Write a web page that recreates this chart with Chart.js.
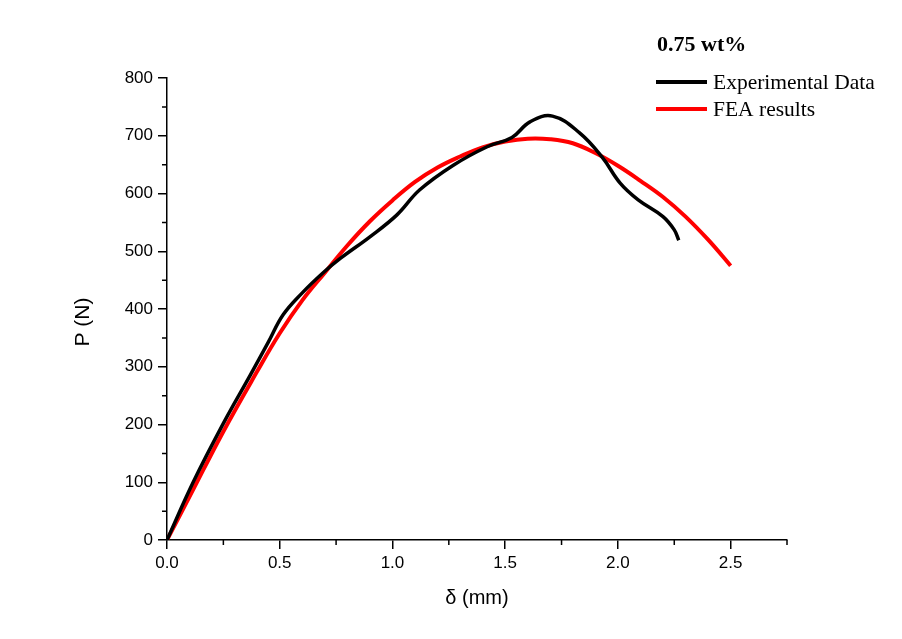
<!DOCTYPE html>
<html>
<head>
<meta charset="utf-8">
<script src="https://cdn.jsdelivr.net/npm/chart.js@4/dist/chart.umd.min.js"></script>
<style>
  html, body { margin: 0; padding: 0; background: #fff; }
  #wrap { width: 902px; height: 639px; }
</style>
</head>
<body>
<div id="wrap"><canvas id="chart" width="902" height="639"></canvas></div>
<script>
// load-displacement, 0.75 wt% sample
const expDelta = [0, 0.116, 0.25, 0.37, 0.45, 0.515, 0.6, 0.69, 0.77, 0.9, 1.02, 1.12, 1.27, 1.42, 1.53, 1.61, 1.71, 1.83, 1.93, 2.01, 2.09, 2.2, 2.25, 2.27]
const expLoad  = [0, 100, 202, 286, 343, 390, 428, 462, 488, 525, 563, 606, 649, 681, 697, 724, 734, 705, 663, 618, 589, 560, 537, 519]

const feaDelta = [0, 0.1, 0.25, 0.4, 0.5, 0.6, 0.7, 0.8, 0.9, 1.0, 1.1, 1.2, 1.3, 1.4, 1.5, 1.6, 1.7, 1.8, 1.9, 2.0, 2.1, 2.2, 2.3, 2.4, 2.5]
const feaLoad  = [0, 75, 188, 292, 358, 415, 463, 510, 552, 588, 620, 645, 664, 680, 690, 695, 694, 687, 670, 648, 622, 594, 560, 520, 475]

const xTicks = [0, 0.5, 1.0, 1.5, 2.0, 2.5]
const xMinor = [0.25, 0.75, 1.25, 1.75, 2.25, 2.75]
const yTicks = [0, 100, 200, 300, 400, 500, 600, 700, 800]
const yMinor = [50, 150, 250, 350, 450, 550, 650, 750]

const toPoints = (xs, ys) => xs.map((x, i) => ({ x: x, y: ys[i] }))

const sansFamily = 'Arial, "Liberation Sans", sans-serif'
const serifFamily = '"Liberation Serif", "Times New Roman", serif'

// short minor ticks along both axes, plus the rotated y title
const axisExtras = {
  id: 'axisExtras',
  afterDraw(chart) {
    const { ctx, chartArea, scales } = chart
    ctx.save()
    ctx.strokeStyle = '#000'
    ctx.lineWidth = 1.5
    ctx.beginPath()
    xMinor.forEach(v => {
      const px = scales.x.getPixelForValue(v)
      ctx.moveTo(px, chartArea.bottom)
      ctx.lineTo(px, chartArea.bottom + 5)
    })
    yMinor.forEach(v => {
      const py = scales.y.getPixelForValue(v)
      ctx.moveTo(chartArea.left, py)
      ctx.lineTo(chartArea.left - 5, py)
    })
    ctx.stroke()

    ctx.translate(83, 322)
    ctx.rotate(-Math.PI / 2)
    ctx.fillStyle = '#000'
    ctx.font = '21px ' + sansFamily
    ctx.textAlign = 'center'
    ctx.textBaseline = 'middle'
    ctx.fillText('P (N)', 0, 0)
    ctx.restore()
  }
}

// heading + legend in the upper right
const sideLegend = {
  id: 'sideLegend',
  afterDraw(chart) {
    const ctx = chart.ctx
    ctx.save()
    ctx.fillStyle = '#000'
    ctx.textBaseline = 'middle'
    ctx.font = 'bold 22px ' + serifFamily
    ctx.fillText('0.75 wt%', 657, 45)
    ctx.font = '21.5px ' + serifFamily
    chart.data.datasets.forEach((ds, i) => {
      const y = 82 + i * 27
      ctx.strokeStyle = ds.borderColor
      ctx.lineWidth = 4
      ctx.beginPath()
      ctx.moveTo(656, y)
      ctx.lineTo(707, y)
      ctx.stroke()
      ctx.fillText(ds.label, 713, y + 1)
    })
    ctx.restore()
  }
}

const tickFont = { family: sansFamily, size: 17 }

new Chart(document.getElementById('chart'), {
  type: 'line',
  data: {
    datasets: [
      {
        label: 'Experimental Data',
        data: toPoints(expDelta, expLoad),
        borderColor: '#000000',
        borderWidth: 3.5,
        pointRadius: 0,
        tension: 0.4
      },
      {
        label: 'FEA results',
        data: toPoints(feaDelta, feaLoad),
        borderColor: '#ff0000',
        borderWidth: 4,
        pointRadius: 0,
        tension: 0.4
      }
    ]
  },
  options: {
    responsive: false,
    animation: false,
    layout: { padding: { top: 78, right: 115, bottom: 0, left: 0 } },
    plugins: {
      legend: { display: false },
      tooltip: { enabled: false }
    },
    scales: {
      x: {
        type: 'linear',
        min: 0,
        max: 2.75,
        afterBuildTicks: s => { s.ticks = xTicks.map(v => ({ value: v })) },
        afterFit: s => { s.height = 99 },
        ticks: {
          color: '#000',
          font: tickFont,
          padding: 4,
          maxRotation: 0,
          callback: v => v.toFixed(1)
        },
        grid: { drawOnChartArea: false, color: '#000', lineWidth: 1.5, tickLength: 9 },
        border: { color: '#000', width: 1.5 },
        title: {
          display: true,
          text: 'δ (mm)',
          color: '#000',
          font: { family: sansFamily, size: 20 },
          padding: { top: 0, bottom: 29 }
        }
      },
      y: {
        min: 0,
        max: 800,
        afterBuildTicks: s => { s.ticks = yTicks.map(v => ({ value: v })) },
        afterFit: s => { s.width = 167 },
        ticks: { color: '#000', font: tickFont, padding: 5 },
        grid: { drawOnChartArea: false, color: '#000', lineWidth: 1.5, tickLength: 9 },
        border: { color: '#000', width: 1.5 }
      }
    }
  },
  plugins: [axisExtras, sideLegend]
})
</script>
</body>
</html>
